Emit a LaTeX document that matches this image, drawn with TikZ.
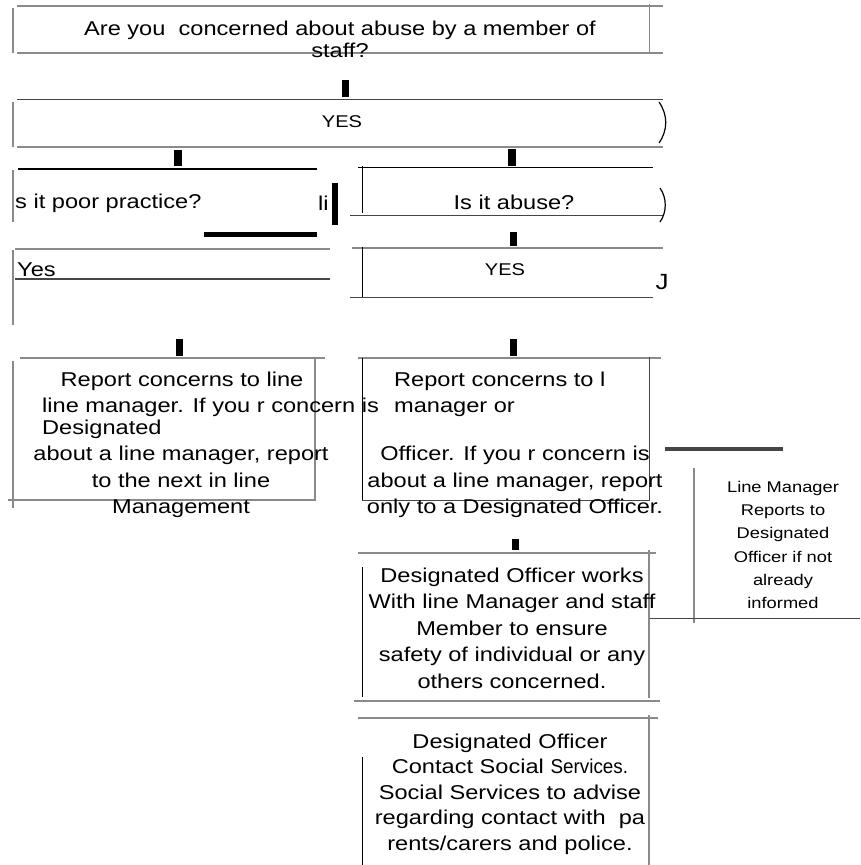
\documentclass[tikz,border=0pt]{standalone}
\usepackage{fontspec}
\setmainfont{Liberation Sans}[FakeStretch=1.18]
\usetikzlibrary{positioning}
\definecolor{ruleGray}{HTML}{8A8A8A}
\definecolor{ruleDark}{HTML}{454545}

\begin{document}
\begin{tikzpicture}[x=1pt, y=-1pt,
  grayrule/.style={draw=ruleGray, line width=2pt},
  darkrule/.style={draw=ruleDark, line width=1.5pt},
  thinrule/.style={draw=black, line width=0.8pt},
  stub/.style={fill=black},
  flowtext/.style={inner sep=0pt, align=center, font=\fontsize{20}{26.5}\selectfont},
  sidetext/.style={inner sep=0pt, align=center, font=\fontsize{15.5}{23.2}\selectfont}
]
  \useasboundingbox (0,0) rectangle (860,865);

  % question box
  \draw[grayrule] (17,6) -- (663,6);
  \draw[grayrule] (17,53) -- (663,53);
  \draw[grayrule] (12.7,8) -- (12.7,53);
  \draw[draw=ruleGray, line width=0.8pt] (649,4) -- (649,53);
  \node[flowtext, font=\fontsize{20}{22}\selectfont] (q1) at (340,39)
    {Are you\ \ concerned about abuse by a member of\\staff?};
  \fill[stub] (342,80) rectangle (349,97);

  % yes
  \draw[darkrule] (17,99.5) -- (663,99.5);
  \draw[grayrule] (17,147) -- (663,147);
  \draw[grayrule] (12.7,102) -- (12.7,147);
  \draw[line width=1.2pt] (659,102) .. controls (668,115) and (668,130) .. (659,143);
  \node[flowtext, font=\fontsize{17}{20}\selectfont] (yes1) at (342,122) {YES};
  \fill[stub] (174,150) rectangle (182,166);
  \fill[stub] (508,149) rectangle (516,166);

  % poor practice
  \draw[draw=black, line width=1.5pt] (18,169) -- (317,169);
  \draw[grayrule] (12.7,170) -- (12.7,222);
  \node[flowtext, anchor=west] (pp) at (15,203) {s it poor practice?};
  \node[flowtext, anchor=west] (li) at (318,203) {li};
  \fill[stub] (332,183) rectangle (338,225);
  \fill[stub] (204,232) rectangle (317,237);

  % abuse
  \draw[thinrule] (358,167) -- (653,167);
  \draw[thinrule] (362,166) -- (362,213);
  \draw[draw=ruleDark, line width=1pt] (350,215) -- (663,215);
  \draw[line width=1.2pt] (660,188) .. controls (667,198) and (667,212) .. (660,222);
  \node[flowtext] (ab) at (514,202) {Is it abuse?};
  \fill[stub] (510,232) rectangle (517,246);

  % yes (left)
  \draw[grayrule] (15,249) -- (330,249);
  \draw[darkrule] (15,279) -- (330,279);
  \draw[grayrule] (12.7,250) -- (12.7,325);
  \node[flowtext, anchor=west] (yl) at (17,270) {Yes};

  % yes (right)
  \draw[grayrule] (352,248) -- (663,248);
  \draw[thinrule] (362,247) -- (362,297);
  \draw[draw=ruleDark, line width=1pt] (350,297) -- (653,297);
  \node[flowtext, font=\fontsize{17}{20}\selectfont] (yr) at (505,270) {YES};
  \node[flowtext, font=\fontsize{22}{24}\selectfont] (jr) at (662,282) {J};
  \fill[stub] (176,339) rectangle (183,356);
  \fill[stub] (510,339) rectangle (517,356);

  % report (left)
  \draw[grayrule] (20,358) -- (325,358);
  \draw[draw=ruleGray, line width=1.2pt] (315,357) -- (315,501);
  \draw[grayrule] (12.7,361) -- (12.7,508);
  \draw[draw=ruleGray, line width=1.2pt] (8,500) -- (315,500);
  \node[flowtext] (lr1) at (182,381) {Report concerns to line};
  \node[flowtext, anchor=west, align=left, font=\fontsize{20}{22}\selectfont] (lr2) at (42,418)
    {line manager. If you r concern is\\Designated};
  \node[flowtext] (lr3) at (181,482)
    {about a line manager, report\\to the next in line\\Management};

  % report (right)
  \draw[grayrule] (358,358) -- (661,358);
  \draw[thinrule] (362,358) -- (362,501);
  \draw[draw=ruleDark, line width=1pt] (649,357) -- (649,501);
  \draw[draw=ruleDark, line width=1pt] (362,500) -- (649,500);
  \node[flowtext, anchor=west, align=left, font=\fontsize{20}{26}\selectfont] (rr1) at (394,394)
    {Report concerns to l\\manager or};
  \node[flowtext] (rr2) at (515,482)
    {Officer. If you r concern is\\about a line manager, report\\only to a Designated Officer.};

  % line manager note
  \fill[ruleDark] (665,447) rectangle (783,451);
  \draw[grayrule] (694,468) -- (694,623);
  \draw[draw=ruleDark, line width=0.8pt] (650,618) -- (860,618);
  \node[sidetext] (lm) at (783,545)
    {Line Manager\\Reports to\\Designated\\Officer if not\\already\\informed};
  \fill[stub] (512,539) rectangle (519,550);

  % designated officer works
  \draw[grayrule] (358,553) -- (656,553);
  \draw[thinrule] (362,567) -- (362,697);
  \draw[draw=ruleGray, line width=1.2pt] (649,550) -- (649,698);
  \draw[draw=ruleGray, line width=2.5pt] (354,701) -- (660,701);
  \node[flowtext] (dow) at (512,628)
    {Designated Officer works\\With line Manager and staff\\Member to ensure\\safety of individual or any\\others concerned.};

  % social services
  \draw[grayrule] (358,718) -- (658,718);
  \draw[thinrule] (362,757) -- (362,865);
  \draw[draw=ruleGray, line width=1.2pt] (649,715) -- (649,865);
  \node[flowtext, font=\fontsize{20}{25.5}\selectfont] (ss) at (510,794)
    {Designated Officer\\Contact Social \scalebox{0.8}[1]{Services.}\\Social Services to advise\\regarding contact with\ \ pa\\rents/carers and police.};
\end{tikzpicture}
\end{document}
